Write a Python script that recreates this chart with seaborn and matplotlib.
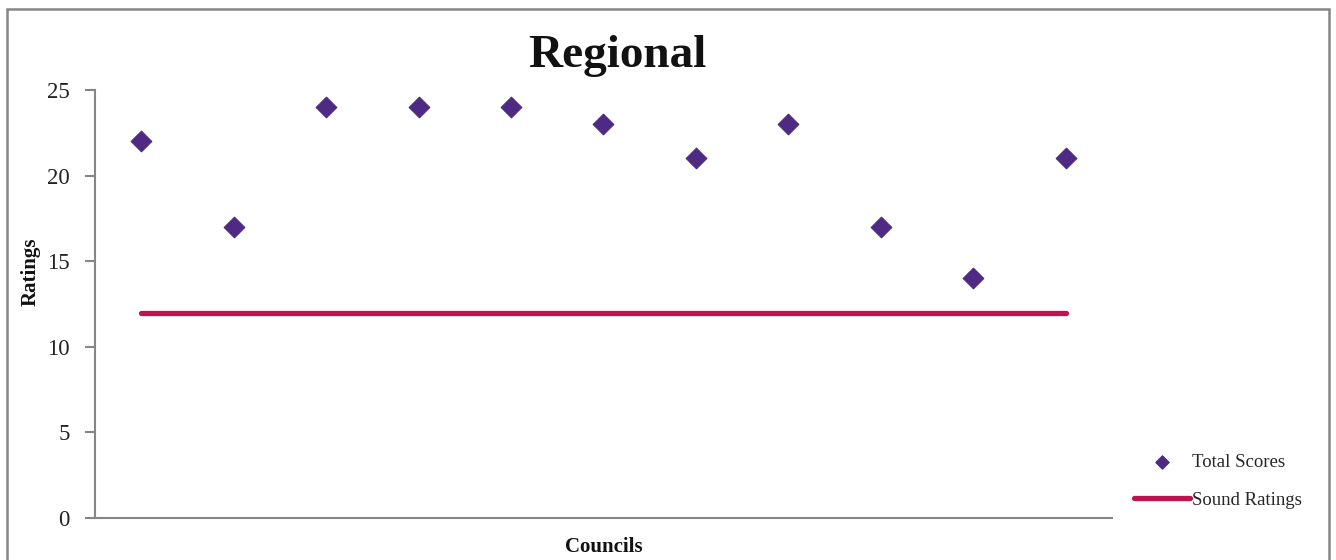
import matplotlib.pyplot as plt
import matplotlib.patches as mpatches
import seaborn as sns
import pandas as pd

# values
councils = ["C1", "C2", "C3", "C4", "C5", "C6", "C7", "C8", "C9", "C10", "C11"]
total_scores = [22, 17, 24, 24, 24, 23, 21, 23, 17, 14, 21]
sound_ratings = [12, 12, 12, 12, 12, 12, 12, 12, 12, 12, 12]

df = pd.DataFrame({"council": councils, "total": total_scores, "sound": sound_ratings})

sns.set_theme(style="white")
plt.rcParams['font.family'] = ['Liberation Serif', 'DejaVu Serif']

fig = plt.figure(figsize=(13.36, 5.6), dpi=100)
ax = fig.add_axes([0.0711, 0.075, 0.7612, 0.7643])

sns.lineplot(data=df, x="council", y="sound", ax=ax, color="#C0124E", lw=3.8,
             solid_capstyle="round", label="Sound Ratings", sort=False)
sns.scatterplot(data=df, x="council", y="total", ax=ax, marker="D", s=110,
                color="#4E2A84", edgecolor="#4E2A84", label="Total Scores", zorder=3)

ax.set_xlim(-0.5, len(councils) - 0.5)
ax.set_ylim(0, 25)
ax.set_yticks([0, 5, 10, 15, 20, 25])
ax.set_xticks([])
ax.tick_params(axis="y", which="major", left=True, length=7, width=1.5,
               color="#868686", labelsize=16.5, pad=11, labelcolor="#222222")

for side in ["top", "right"]:
    ax.spines[side].set_visible(False)
for side in ["left", "bottom"]:
    ax.spines[side].set_color("#868686")
    ax.spines[side].set_linewidth(1.5)

ax.set_xlabel("Councils", fontsize=15, fontweight="bold", labelpad=14, color="#111111")
ax.set_ylabel("Ratings", fontsize=15, fontweight="bold", color="#111111")
ax.yaxis.set_label_coords(-0.053, 0.575)

fig.text(0.462, 0.90, "Regional", ha="center", va="center",
         fontsize=34, fontweight="bold", color="#111111")

handles, labels = ax.get_legend_handles_labels()
order = [labels.index("Total Scores"), labels.index("Sound Ratings")]
ax.legend([handles[i] for i in order], [labels[i] for i in order],
          loc="center left", bbox_to_anchor=(1.005, 0.086), frameon=False,
          fontsize=13.5, handlelength=3.0, handletextpad=0.1, labelspacing=1.1,
          markerscale=0.65)

# outer chart border
fig.patches.append(mpatches.Rectangle((0.0055, -0.05), 0.9895, 1.034,
                                      transform=fig.transFigure, fill=False,
                                      edgecolor="#868686", lw=1.8))

fig.savefig("out.png", dpi=100)
